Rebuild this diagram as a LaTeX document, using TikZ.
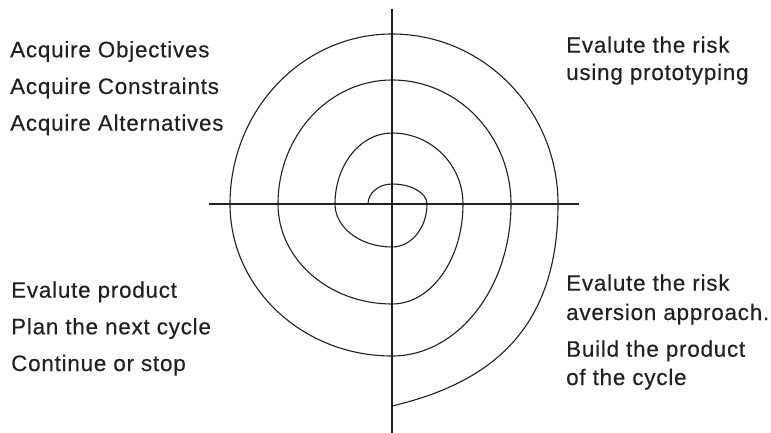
\documentclass[tikz,border=0pt]{standalone}
\usepackage{fontspec}
\newfontfamily\labfont{Liberation Sans}[LetterSpace=3.5,FakeBold=0.3]
\definecolor{ink}{HTML}{231F20}
\begin{document}
\begin{tikzpicture}[x=1pt,y=-1pt,
  axis/.style={draw=ink,line width=1.1pt},
  spiral/.style={draw=ink,line width=1.1pt,line join=round},
  lab/.style={anchor=base west,inner sep=0pt,text=ink,font=\labfont\fontsize{22.4}{26}\selectfont}]
\useasboundingbox (0,0) rectangle (771,433);
% axes
\coordinate (hl) at (209,204);
\coordinate (hr) at (579,204);
\coordinate (vt) at (392,9);
\coordinate (vb) at (392,433);
\draw[axis] (hl) -- (hr);
\draw[axis] (vt) -- (vb);
% spiral (center 392,204)
\def\k{0.5523}
\coordinate (p0) at (368,204);
\coordinate (p1) at (392,184);
\coordinate (p2) at (427,204);
\coordinate (p3) at (392,247);
\coordinate (p4) at (335,204);
\coordinate (p5) at (392,133);
\coordinate (p6) at (463,204);
\coordinate (p7) at (392,304);
\coordinate (p8) at (278,204);
\coordinate (p9) at (392,80);
\coordinate (p10) at (511,204);
\coordinate (p11) at (392,356);
\coordinate (p12) at (230,204);
\coordinate (p13) at (392,34);
\coordinate (p14) at (558,204);
\coordinate (p15) at (392,406);
\draw[spiral]
  (p0) .. controls (368,{204-\k*20}) and ({392-\k*24},184) .. (p1)
       .. controls ({392+\k*35},184) and (427,{204-\k*20}) .. (p2)
       .. controls (427,{204+\k*43}) and ({392+\k*35},247) .. (p3)
       .. controls ({392-\k*57},247) and (335,{204+\k*43}) .. (p4)
       .. controls (335,{204-\k*71}) and ({392-\k*57},133) .. (p5)
       .. controls ({392+\k*71},133) and (463,{204-\k*71}) .. (p6)
       .. controls (463,{204+\k*100}) and ({392+\k*71},304) .. (p7)
       .. controls ({392-\k*114},304) and (278,{204+\k*100}) .. (p8)
       .. controls (278,{204-\k*124}) and ({392-\k*114},80) .. (p9)
       .. controls ({392+\k*119},80) and (511,{204-\k*124}) .. (p10)
       .. controls (511,{204+\k*152}) and ({392+\k*119},356) .. (p11)
       .. controls ({392-\k*162},356) and (230,{204+\k*152}) .. (p12)
       .. controls (230,{204-\k*170}) and ({392-\k*162},34) .. (p13)
       .. controls ({392+\k*166},34) and (558,{204-\k*170}) .. (p14)
       .. controls (558,330) and (490,383) .. (p15);
% labels
\node[lab] (tl1) at (10,57.3) {Acquire Objectives};
\node[lab] (tl2) at (10,94) {Acquire Constraints};
\node[lab] (tl3) at (10,130.7) {Acquire Alternatives};
\node[lab] (tr1) at (566,52.7) {Evalute the risk};
\node[lab] (tr2) at (566,80) {using prototyping};
\node[lab] (bl1) at (11,297.7) {Evalute product};
\node[lab] (bl2) at (11,334.3) {Plan the next cycle};
\node[lab] (bl3) at (11,371) {Continue or stop};
\node[lab] (br1) at (566,290.7) {Evalute the risk};
\node[lab] (br2) at (566,320) {aversion approach.};
\node[lab] (br3) at (566,356.7) {Build the product};
\node[lab] (br4) at (566,385) {of the cycle};
\end{tikzpicture}
\end{document}
